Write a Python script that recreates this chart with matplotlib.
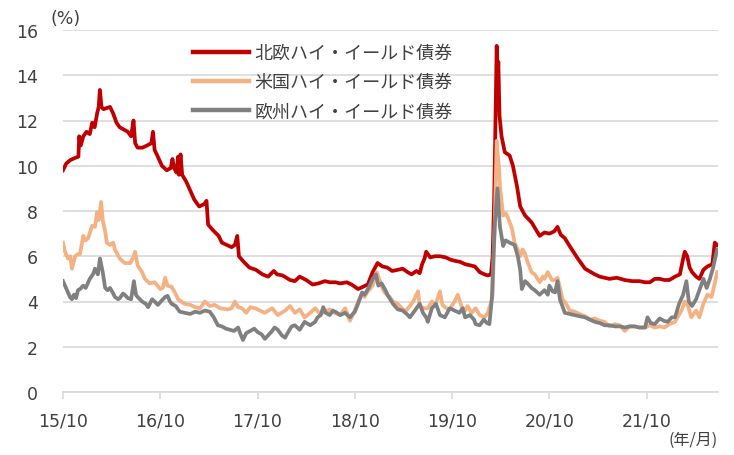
import matplotlib
matplotlib.use("Agg")
import matplotlib.pyplot as plt

plt.rcParams['font.family'] = ['DejaVu Sans', 'Noto Sans CJK JP']

# time axis: months since 2015/10
nordic_t = [0, 0.4, 0.9, 1.5, 1.9, 2.0, 2.2, 2.5, 2.9, 3.3, 3.6, 3.9, 4.2, 4.4, 4.55, 4.75, 5.0, 5.4, 5.8, 6.2,
            6.6, 7.0, 7.5, 8.0, 8.4, 8.7, 8.9, 9.2, 9.8, 10.4, 10.9, 11.1, 11.3, 11.7, 12.2, 12.8, 13.3, 13.5, 13.7, 14.0,
            14.2, 14.3, 14.5, 14.7, 15.2, 15.7, 16.2, 16.8, 17.4, 17.7, 17.9, 18.5, 19.2, 19.6, 20.2, 20.8, 21.2, 21.5, 21.7, 22.3,
            23.0, 23.8, 24.6, 25.3, 26.0, 26.4, 27.1, 28.0, 28.6, 29.2, 30.0, 30.8, 31.5, 32.3, 32.9, 33.6, 34.2, 35.0, 35.6, 36.4,
            37.0, 37.6, 38.2, 38.8, 39.4, 40.0, 40.6, 41.3, 41.9, 42.5, 43.0, 43.6, 44.0, 44.3, 44.6, 44.8, 45.3, 45.9, 46.5, 47.2,
            47.8, 48.3, 49.0, 49.6, 50.2, 50.8, 51.4, 52.0, 52.4, 52.8, 53.0, 53.2, 53.35, 53.5, 53.6, 53.7, 53.85, 54.1, 54.5, 55.1,
            55.5, 56.0, 56.4, 57.0, 57.8, 58.8, 59.4, 60.0, 60.6, 61.0, 61.4, 61.9, 62.5, 63.5, 64.4, 65.6, 66.2, 67.4, 68.3, 69.3,
            70.2, 71.1, 71.8, 72.4, 73.0, 73.6, 74.2, 74.8, 75.5, 76.1, 76.5, 76.7, 77.0, 77.3, 77.6, 78.1, 78.5, 79.0, 79.5, 80.1,
            80.4, 80.7]
nordic_v = [9.8, 10.1, 10.25, 10.35, 10.4, 11.3, 10.9, 11.3, 11.5, 11.4, 11.9, 11.7, 12.3, 12.6, 13.35, 12.6, 12.5, 12.55, 12.6, 12.3,
            11.9, 11.7, 11.6, 11.5, 11.3, 12.0, 11.0, 10.8, 10.8, 10.9, 11.0, 11.5, 10.7, 10.4, 10.0, 9.8, 9.9, 10.3, 9.9, 9.7,
            10.4, 9.6, 10.5, 9.6, 9.3, 8.9, 8.5, 8.2, 8.3, 8.45, 7.4, 7.15, 6.9, 6.6, 6.5, 6.4, 6.5, 6.9, 6.0, 5.75,
            5.5, 5.4, 5.2, 5.1, 5.35, 5.2, 5.15, 4.95, 4.9, 5.1, 4.95, 4.75, 4.8, 4.9, 4.85, 4.85, 4.8, 4.85, 4.75, 4.55,
            4.65, 4.75, 5.3, 5.7, 5.55, 5.5, 5.35, 5.4, 5.45, 5.3, 5.2, 5.35, 5.25, 5.65, 5.9, 6.2, 5.95, 6.0, 6.0, 5.95,
            5.85, 5.8, 5.75, 5.65, 5.6, 5.55, 5.3, 5.2, 5.15, 5.2, 6.0, 8.7, 12.0, 15.3, 13.5, 14.6, 12.2, 11.3, 10.6, 10.45,
            10.0, 9.1, 8.2, 7.8, 7.5, 6.9, 7.05, 7.0, 7.1, 7.3, 6.95, 6.8, 6.45, 5.9, 5.45, 5.2, 5.1, 5.0, 5.05, 4.95,
            4.9, 4.9, 4.85, 4.85, 5.0, 5.0, 4.95, 4.95, 5.1, 5.2, 5.9, 6.2, 6.0, 5.5, 5.3, 5.1, 5.0, 5.4, 5.55, 5.65,
            6.6, 6.5]

us_t = [0, 0.25, 0.6, 0.9, 1.1, 1.5, 1.85, 2.1, 2.5, 2.8, 3.1, 3.6, 3.95, 4.2, 4.4, 4.7, 4.9, 5.2, 5.4, 5.8,
        6.2, 6.4, 7.0, 7.6, 8.3, 8.6, 8.9, 9.2, 9.75, 10.1, 10.7, 11.3, 12.0, 12.3, 12.6, 12.9, 13.4, 13.8, 14.2, 15.0,
        15.7, 16.3, 16.9, 17.5, 18.1, 18.7, 19.4, 20.3, 20.8, 21.2, 21.6, 22.1, 22.6, 23.1, 23.7, 24.3, 24.9, 25.8, 26.5, 27.4,
        28.0, 28.6, 29.2, 29.8, 30.5, 31.1, 31.7, 32.3, 32.9, 33.5, 34.2, 34.8, 35.4, 36.0, 36.4, 36.9, 37.2, 37.6, 38.2, 38.7,
        39.1, 39.5, 39.8, 40.3, 40.7, 41.3, 42.2, 42.8, 43.2, 43.8, 44.0, 44.5, 45.0, 45.5, 46.0, 46.5, 46.8, 47.3, 47.7, 48.3,
        48.7, 49.2, 49.6, 49.9, 50.4, 50.9, 51.4, 52.0, 52.4, 52.8, 53.0, 53.3, 53.5, 53.8, 53.9, 54.3, 54.6, 54.9, 55.4, 55.7,
        56.1, 56.4, 56.7, 57.0, 57.3, 57.8, 58.2, 58.8, 59.2, 59.4, 59.8, 60.3, 60.7, 61.0, 61.3, 61.7, 61.9, 62.5, 63.1, 63.7,
        64.4, 65.0, 65.6, 66.2, 66.8, 67.4, 68.1, 68.7, 69.3, 69.9, 70.5, 71.1, 71.8, 72.4, 73.0, 73.6, 74.2, 74.8, 75.5, 75.8,
        76.3, 76.7, 77.1, 77.5, 78.1, 78.5, 79.0, 79.5, 80.0, 80.4, 80.7]
us_v = [6.6, 6.2, 5.9, 6.0, 5.45, 6.0, 6.1, 6.1, 6.9, 6.7, 6.8, 7.35, 7.3, 7.95, 7.6, 8.4, 7.6, 7.1, 6.6, 6.5,
        6.6, 6.3, 5.9, 5.7, 5.7, 5.9, 6.2, 5.6, 5.3, 5.0, 4.8, 4.85, 4.55, 4.6, 5.05, 4.7, 4.65, 4.4, 4.1, 3.9,
        3.85, 3.75, 3.7, 4.0, 3.8, 3.85, 3.7, 3.65, 3.7, 4.0, 3.75, 3.7, 3.5, 3.75, 3.7, 3.6, 3.5, 3.7, 3.4, 3.6,
        3.8, 3.5, 3.65, 3.3, 3.5, 3.7, 3.45, 3.55, 3.65, 3.5, 3.4, 3.7, 3.15, 3.6, 4.0, 4.35, 4.2, 4.45, 4.7, 5.3,
        4.9, 4.5, 4.35, 4.2, 4.0, 3.9, 3.55, 3.8, 4.0, 4.45, 3.8, 3.7, 3.7, 4.0, 3.9, 4.45, 3.85, 3.7, 3.65, 4.0,
        4.3, 3.75, 3.6, 3.8, 3.5, 3.7, 3.4, 3.3, 3.5, 3.95, 4.3, 8.0, 11.1, 9.8, 9.1, 7.8, 7.9, 7.7, 7.2, 6.6,
        6.3, 6.0, 6.3, 6.1, 5.75, 5.3, 5.2, 4.85, 5.1, 5.0, 5.3, 4.95, 4.95, 5.05, 4.6, 4.0, 4.0, 3.6, 3.55, 3.45,
        3.35, 3.2, 3.25, 3.15, 3.1, 2.9, 3.0, 2.95, 2.7, 2.9, 2.9, 2.85, 2.85, 2.95, 2.85, 2.9, 2.85, 3.0, 3.1, 3.3,
        3.6, 4.0, 3.8, 3.3, 3.6, 3.3, 3.9, 4.3, 4.2, 4.8, 5.3]

eu_t = [0, 0.25, 0.5, 0.86, 1.1, 1.35, 1.6, 1.85, 2.1, 2.5, 2.8, 3.3, 3.7, 3.95, 4.3, 4.56, 4.9, 5.2, 5.5, 5.8,
        6.2, 6.4, 6.8, 7.0, 7.4, 7.6, 8.0, 8.4, 8.75, 9.0, 9.2, 9.75, 10.2, 10.5, 11.0, 11.3, 11.7, 12.2, 12.6, 12.9,
        13.2, 13.4, 13.9, 14.4, 15.0, 15.7, 16.3, 16.9, 17.5, 18.1, 18.6, 19.1, 19.6, 20.1, 20.6, 21.1, 21.6, 21.9, 22.2, 22.6,
        23.1, 23.6, 24.0, 24.5, 24.9, 25.3, 25.8, 26.1, 26.5, 27.0, 27.4, 27.7, 28.2, 28.6, 29.2, 29.8, 30.5, 31.1, 31.4, 31.8,
        32.1, 32.4, 32.9, 33.3, 33.8, 34.2, 34.8, 35.4, 36.0, 36.4, 36.9, 37.2, 37.7, 38.2, 38.6, 38.9, 39.3, 39.7, 40.1, 40.7,
        41.3, 41.9, 42.4, 42.8, 43.4, 44.0, 44.4, 44.8, 45.0, 45.5, 46.0, 46.5, 47.1, 47.7, 48.3, 48.9, 49.3, 49.6, 50.2, 50.7,
        50.9, 51.4, 51.9, 52.3, 52.6, 52.9, 53.1, 53.3, 53.6, 53.9, 54.3, 54.6, 55.1, 55.7, 56.1, 56.4, 56.6, 57.0, 57.3, 57.8,
        58.2, 58.8, 59.4, 59.8, 60.0, 60.4, 60.7, 61.0, 61.3, 61.7, 61.9, 62.5, 63.1, 63.7, 64.4, 65.0, 65.6, 66.2, 66.8, 67.4,
        68.1, 68.7, 69.3, 69.9, 70.5, 71.1, 71.8, 72.1, 72.5, 73.0, 73.6, 74.1, 74.6, 75.1, 75.5, 76.0, 76.5, 76.9, 77.2, 77.6,
        78.1, 78.6, 79.0, 79.4, 79.8, 80.2, 80.5, 80.7]
eu_v = [4.9, 4.7, 4.5, 4.2, 4.1, 4.3, 4.15, 4.5, 4.55, 4.7, 4.6, 5.0, 5.2, 5.45, 5.2, 5.9, 5.3, 4.6, 4.5, 4.6,
        4.35, 4.2, 4.1, 4.15, 4.35, 4.3, 4.15, 4.1, 4.9, 4.3, 4.2, 4.0, 3.9, 3.75, 4.1, 4.0, 3.85, 4.05, 4.2, 4.25,
        4.0, 3.9, 3.8, 3.55, 3.5, 3.45, 3.55, 3.5, 3.6, 3.55, 3.3, 2.95, 2.9, 2.8, 2.75, 2.7, 2.85, 2.55, 2.3, 2.6,
        2.7, 2.8, 2.65, 2.55, 2.35, 2.5, 2.7, 2.85, 2.75, 2.5, 2.4, 2.6, 2.9, 2.95, 2.75, 3.1, 2.95, 3.1, 3.3, 3.4,
        3.75, 3.5, 3.4, 3.6, 3.5, 3.4, 3.5, 3.3, 3.55, 3.9, 4.4, 4.3, 4.6, 5.0, 5.2, 4.7, 4.8, 4.55, 4.25, 3.9,
        3.65, 3.6, 3.45, 3.3, 3.6, 3.9, 3.5, 3.3, 3.1, 3.7, 3.9, 3.4, 3.3, 3.7, 3.6, 3.5, 3.7, 3.3, 3.4, 3.2,
        3.0, 2.95, 3.2, 3.05, 3.0, 4.1, 6.0, 7.6, 9.0, 7.3, 6.45, 6.7, 6.6, 6.5, 6.0, 5.4, 4.55, 4.9, 4.8, 4.6,
        4.5, 4.3, 4.5, 4.3, 4.7, 4.45, 4.4, 4.9, 4.1, 3.7, 3.5, 3.45, 3.4, 3.35, 3.3, 3.2, 3.1, 3.05, 2.95, 2.95,
        2.9, 2.9, 2.85, 2.9, 2.9, 2.85, 2.85, 3.3, 3.05, 3.0, 3.25, 3.15, 3.1, 3.3, 3.3, 3.9, 4.3, 4.9, 4.0, 3.8,
        4.1, 4.6, 5.0, 4.6, 5.0, 5.5, 6.0, 6.3]

labels = ['北欧ハイ・イールド債券', '米国ハイ・イールド債券', '欧州ハイ・イールド債券']
colors = ['#C00000', '#F4B183', '#808080']
xtick_pos = [0, 12, 24, 36, 48, 60, 72]
xtick_labels = ['15/10', '16/10', '17/10', '18/10', '19/10', '20/10', '21/10']
yticks = [0, 2, 4, 6, 8, 10, 12, 14, 16]

fig = plt.figure(figsize=(7.34, 4.56), dpi=100)
ax = fig.add_axes([63/734, 1-393/456, (718-63)/734, (393-31)/456])

series = [(nordic_t, nordic_v), (us_t, us_v), (eu_t, eu_v)]
for (t, v), lab, c in zip(series, labels, colors):
    ax.plot(t, v, color=c, lw=2.7, label=lab, solid_joinstyle='round')

ax.set_xlim(0, 80.8)
ax.set_ylim(0, 16)
ax.set_yticks(yticks)
ax.set_xticks(xtick_pos)
ax.set_xticklabels(xtick_labels)
ax.grid(axis='y', color='#D9D9D9', lw=1.2)
ax.set_axisbelow(True)
for s in ['top', 'right', 'left']:
    ax.spines[s].set_visible(False)
ax.spines['bottom'].set_color('#D9D9D9')
ax.spines['bottom'].set_linewidth(1.2)
ax.tick_params(axis='y', length=0, pad=18, labelsize=12.5, labelcolor='#404040')
ax.tick_params(axis='x', length=5, width=1.2, color='#D9D9D9', pad=9, labelsize=12.5, labelcolor='#404040')

fig.text(50/734, 1-19/456, '(%)', ha='left', va='center', fontsize=12.5, color='#404040')
fig.text(718/734, 1-440/456, '(年/月)', ha='right', va='center', fontsize=11.5, color='#404040',
         family=['Noto Sans CJK JP', 'DejaVu Sans'])

leg = ax.legend(loc='upper left', bbox_to_anchor=(184/734, 1-36/456), bbox_transform=fig.transFigure,
                frameon=False, handlelength=3.1, handletextpad=0.3, labelspacing=0.62, borderpad=0,
                prop={'family': ['Noto Sans CJK JP', 'DejaVu Sans'], 'size': 13})
for txt in leg.get_texts():
    txt.set_color('#404040')
for line in leg.get_lines():
    line.set_linewidth(3.2)

fig.savefig('out.png', dpi=100)
